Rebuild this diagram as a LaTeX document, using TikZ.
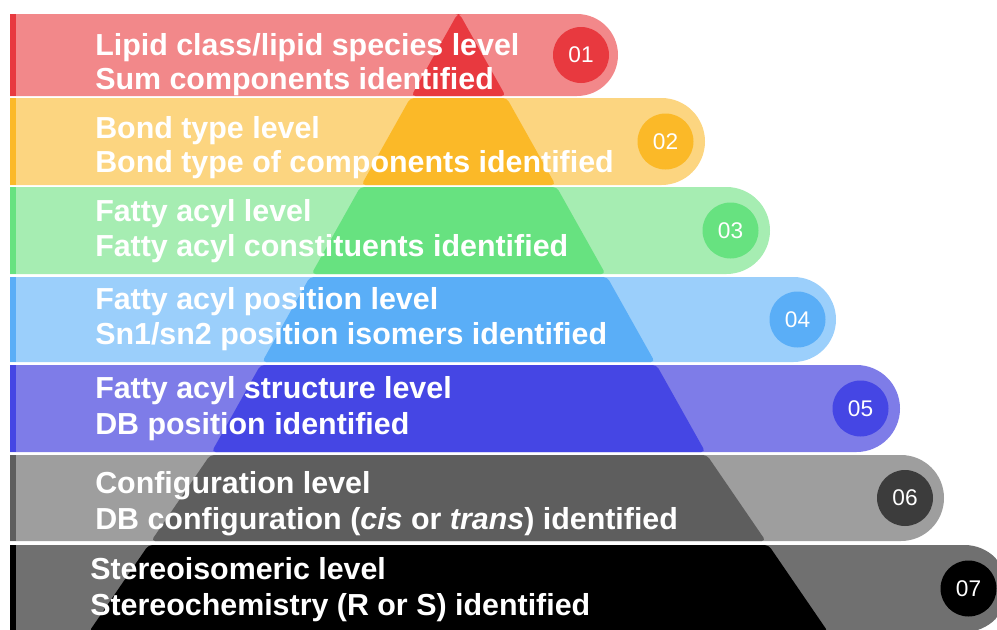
\documentclass[tikz,border=0pt]{standalone}
\usepackage{fontspec}
\setmainfont{Liberation Sans}

\definecolor{redL}{HTML}{F2888A}
\definecolor{redD}{HTML}{E8393F}
\definecolor{yelL}{HTML}{FCD580}
\definecolor{yelD}{HTML}{FBB928}
\definecolor{grnL}{HTML}{A6EDB2}
\definecolor{grnD}{HTML}{67E280}
\definecolor{bluL}{HTML}{9BCFFB}
\definecolor{bluD}{HTML}{5AAEF7}
\definecolor{indL}{HTML}{7E7CE8}
\definecolor{indD}{HTML}{4546E4}
\definecolor{gryL}{HTML}{9E9E9E}
\definecolor{gryD}{HTML}{5E5E5E}
\definecolor{gryC}{HTML}{3C3C3C}
\definecolor{blkL}{HTML}{707070}
\definecolor{blkD}{HTML}{000000}

\begin{document}
\begin{tikzpicture}[x=0.75pt,y=-0.75pt,
  lvl/.style={anchor=base west,inner sep=0pt,text=white,
    font=\fontsize{22.8}{27}\selectfont\bfseries},
  num/.style={circle,inner sep=0pt,minimum size=42pt,text=white,
    font=\fontsize{17}{20}\selectfont}]

\clip (0,0) rectangle (997,629);

% bands: top/bottom/right end/light/dark/circle colour/number
\foreach \t/\b/\xe/\lt/\dk/\cc/\n in {
  14/96/618/redL/redD/redD/01,
  98/185/705/yelL/yelD/yelD/02,
  187/274/770/grnL/grnD/grnD/03,
  277/362/836/bluL/bluD/bluD/04,
  365/452/900/indL/indD/indD/05,
  455/541/944/gryL/gryD/gryC/06,
  545/632/1008/blkL/blkD/blkD/07}{
  \pgfmathsetmacro\r{(\b-\t)/2}
  \pgfmathsetmacro\m{(\b+\t)/2}
  % half widths of the pyramid at top and bottom of the band
  \pgfmathsetmacro\hwt{\t<453 ? (\t-12)*0.561 : 247+(\t-453)*0.685}
  \pgfmathsetmacro\hwb{\b<453 ? (\b-12)*0.561 : 247+(\b-453)*0.685}
  \begin{scope}
    \clip (10,0) rectangle (1100,700);
    \clip[rounded corners=\r*0.75pt] (-200,\t) rectangle (\xe,\b);
    \fill[\lt] (0,0) rectangle (1000,640);
    \fill[\dk,rounded corners=3pt] (458.5-\hwt,\t) -- (458.5+\hwt,\t)
      -- (458.5+\hwb,\b) -- (458.5-\hwb,\b) -- cycle;
    \fill[\dk] (10,\t) rectangle (16,\b);
  \end{scope}
  \node[num,fill=\cc] (n\n) at (\xe-\r+4,\m) {\n};
}

\node[lvl] (l1a) at (95,55) {Lipid class/lipid species level};
\node[lvl] (l1b) at (95,89) {Sum components identified};
\node[lvl] (l2a) at (95,138) {Bond type level};
\node[lvl] (l2b) at (95,172) {Bond type of components identified};
\node[lvl] (l3a) at (95,221) {Fatty acyl level};
\node[lvl] (l3b) at (95,256) {Fatty acyl constituents identified};
\node[lvl] (l4a) at (95,309) {Fatty acyl position level};
\node[lvl] (l4b) at (95,344) {Sn1/sn2 position isomers identified};
\node[lvl] (l5a) at (95,398) {Fatty acyl structure level};
\node[lvl] (l5b) at (95,434) {DB position identified};
\node[lvl] (l6a) at (95,493) {Configuration level};
\node[lvl] (l6b) at (95,529) {DB configuration (\textit{cis} or \textit{trans}) identified};
\node[lvl] (l7a) at (90,579) {Stereoisomeric level};
\node[lvl] (l7b) at (90,615) {Stereochemistry (R or S) identified};

\end{tikzpicture}
\end{document}
